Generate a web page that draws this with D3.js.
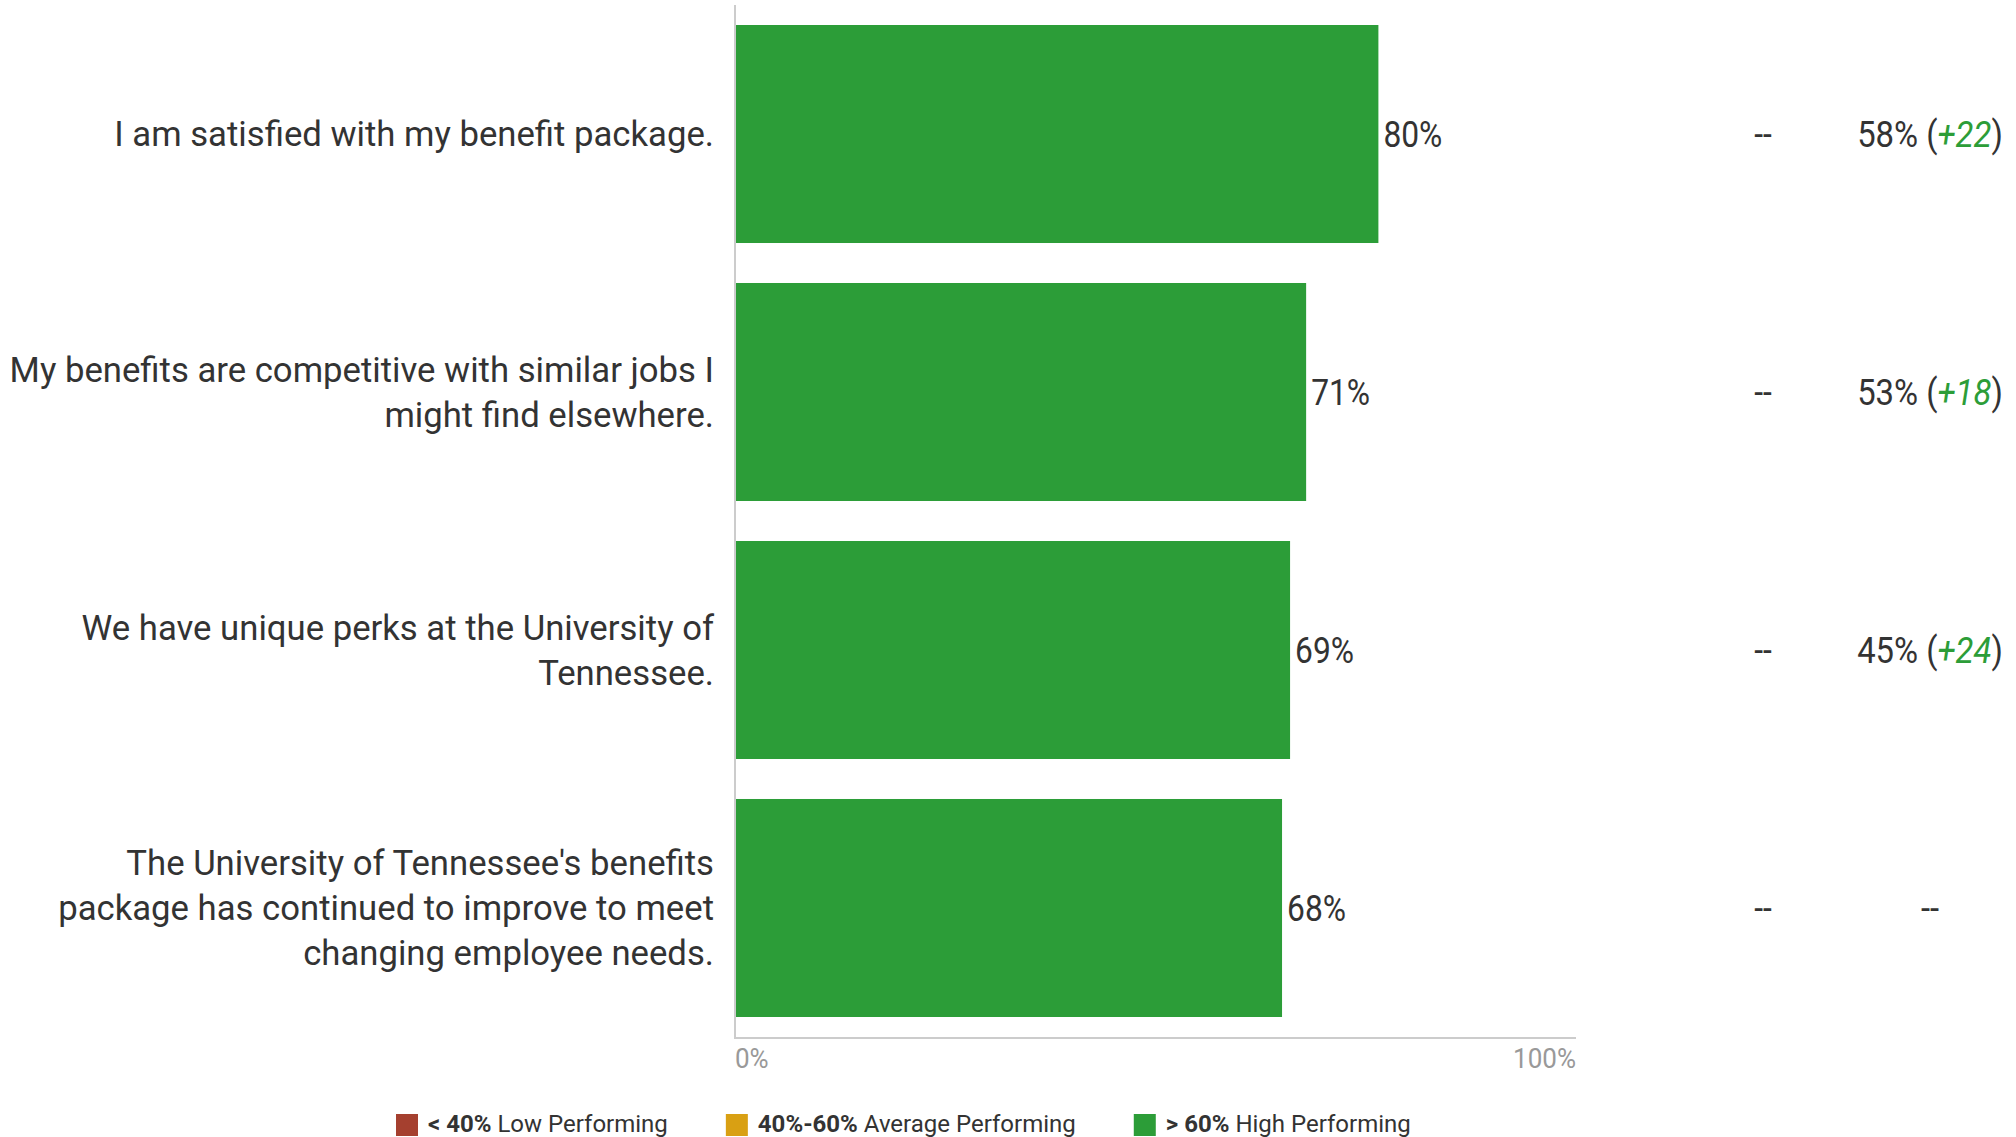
<!DOCTYPE html>
<html>
<head>
<meta charset="utf-8">
<script src="https://cdn.jsdelivr.net/npm/d3@7/dist/d3.min.js"></script>
<style>
  html, body { margin: 0; padding: 0; background: #ffffff; }
  svg { display: block; font-family: Roboto, "Noto Sans", sans-serif; }
</style>
</head>
<body>
<svg id="chart" width="2016" height="1137"></svg>
<script>
// Survey statements (line breaks mark where each label wraps)
const categories = [
  "I am satisfied with my benefit package.",
  "My benefits are competitive with similar jobs I\nmight find elsewhere.",
  "We have unique perks at the University of\nTennessee.",
  "The University of Tennessee's benefits\npackage has continued to improve to meet\nchanging employee needs."
];
// Percent agreeing, current survey
const values = [80, 71, 69, 68];
// Comparison columns (null = no score available)
const comparisonA = [null, null, null, null];
const comparisonB = [58, 53, 45, null];
// Axis ticks
const tickValues = [0, 100];
// Performance bands
const bandThresholds = [40, 60];
const bandColors = ["#a5402f", "#d9a013", "#2c9d38"];
const legendBold = ["< 40%", "40%-60%", "> 60%"];
const legendText = ["Low Performing", "Average Performing", "High Performing"];

const W = 2016, H = 1137;
const plotLeft = 736, plotTop = 25, plotBottom = 1017;
const axisY = 1038, axisTop = 5, axisWidth = 841;
const condense = 0.87;
const textColor = "#333333";

const svg = d3.select("#chart");
svg.append("rect").attr("width", W).attr("height", H).attr("fill", "#fff");

const x = d3.scaleLinear().domain([0, 100]).range([plotLeft, plotLeft + 803]);
const y = d3.scaleBand().domain(categories).range([plotTop, plotBottom]).paddingInner(0.155);
const bandColor = d3.scaleThreshold().domain(bandThresholds).range(bandColors);

// Bars
svg.append("g").selectAll("rect")
  .data(values)
  .join("rect")
  .attr("x", x(0))
  .attr("y", (d, i) => y(categories[i]))
  .attr("width", d => x(d) - x(0))
  .attr("height", y.bandwidth())
  .attr("fill", d => bandColor(d));

// Axis frame lines
const axes = svg.append("g").attr("stroke", "#cccccc").attr("stroke-width", 2);
axes.append("line").attr("x1", plotLeft - 1).attr("x2", plotLeft - 1)
  .attr("y1", axisTop).attr("y2", axisY + 1);
axes.append("line").attr("x1", plotLeft - 2).attr("x2", plotLeft - 1 + axisWidth)
  .attr("y1", axisY).attr("y2", axisY);

// Helper: condensed text placed at (px, py)
function condensedText(parent, px, py, anchor, size, f) {
  return parent.append("g")
    .attr("transform", `translate(${px},${py}) scale(${f},1)`)
    .append("text")
    .attr("text-anchor", anchor)
    .attr("font-size", size);
}

// Tick labels at the ends of the axis
const tickG = svg.append("g");
tickValues.forEach((t, i) => {
  const last = i === tickValues.length - 1;
  const px = last ? plotLeft - 1 + axisWidth : x(t) - 1;
  condensedText(tickG, px, 1068, last ? "end" : "start", 28, 0.93)
    .attr("fill", "#999999")
    .text(t + "%");
});

// Category labels, right aligned and centered on each bar
const lineH = 45;
const labelG = svg.append("g");
categories.forEach((c, i) => {
  const lines = c.split("\n");
  const cy = y(c) + y.bandwidth() / 2;
  const t = labelG.append("text")
    .attr("text-anchor", "end")
    .attr("font-size", 34.7)
    .attr("fill", textColor);
  lines.forEach((ln, j) => {
    t.append("tspan")
      .attr("x", plotLeft - 22)
      .attr("y", cy + (j - (lines.length - 1) / 2) * lineH)
      .attr("dy", "0.35em")
      .text(ln);
  });
});

// Value labels at bar ends
const valG = svg.append("g");
values.forEach((v, i) => {
  const cy = y(categories[i]) + y.bandwidth() / 2;
  condensedText(valG, x(v) + 5, cy, "start", 36.5, condense)
    .attr("dy", "0.35em")
    .attr("fill", textColor)
    .text(v + "%");
});

// Comparison columns
const colA = 1763, colB = 1930;
const cmpG = svg.append("g");
values.forEach((v, i) => {
  const cy = y(categories[i]) + y.bandwidth() / 2;
  const a = comparisonA[i];
  condensedText(cmpG, colA, cy, "middle", 36.5, condense)
    .attr("dy", "0.35em").attr("fill", textColor)
    .text(a == null ? "--" : a + "%");

  const b = comparisonB[i];
  const t = condensedText(cmpG, colB, cy, "middle", 36.5, 0.9)
    .attr("dy", "0.35em").attr("fill", textColor);
  if (b == null) {
    t.text("--");
  } else {
    const diff = v - b;
    t.append("tspan").text(b + "% (");
    t.append("tspan")
      .attr("fill", diff >= 0 ? bandColors[2] : bandColors[0])
      .attr("font-style", "italic")
      .text((diff >= 0 ? "+" : "") + diff);
    t.append("tspan").text(")");
  }
});

// Legend
const legendG = svg.append("g");
let lx = 396;
const sw = 22, legendTop = 1114, legendBase = 1132;
legendBold.forEach((b, i) => {
  legendG.append("rect")
    .attr("x", lx).attr("y", legendTop)
    .attr("width", sw).attr("height", sw)
    .attr("fill", bandColors[i]);
  const t = legendG.append("text")
    .attr("x", lx + sw + 10).attr("y", legendBase)
    .attr("font-size", 24).attr("fill", textColor);
  t.append("tspan").attr("font-weight", "bold").text(b);
  t.append("tspan").text(" " + legendText[i]);
  lx += sw + 10 + t.node().getComputedTextLength() + 58;
});
</script>
</body>
</html>
